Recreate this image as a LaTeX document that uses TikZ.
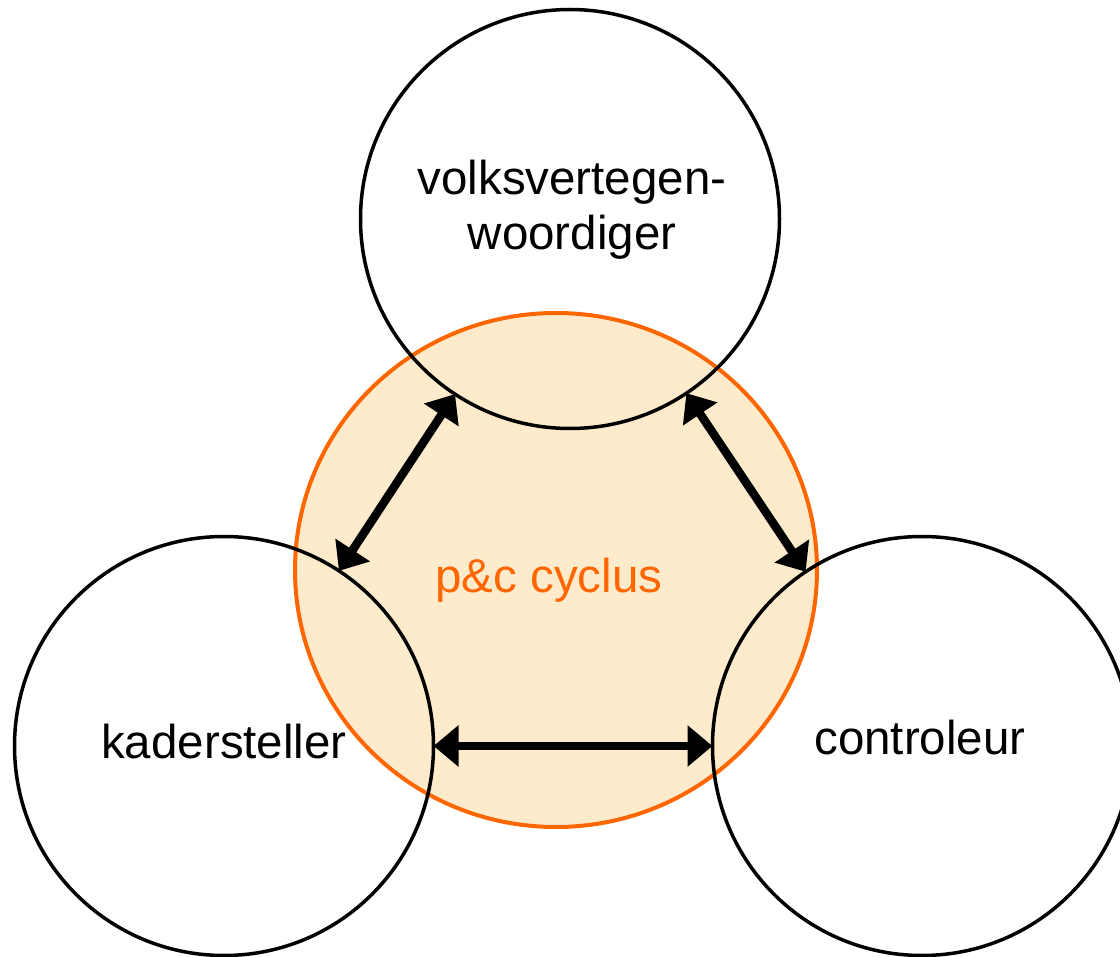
\documentclass[tikz,border=0pt]{standalone}
\usepackage{fontspec}
\setmainfont{Liberation Sans}
\usetikzlibrary{arrows.meta,shapes.geometric}
\definecolor{pcorange}{HTML}{FF6600}
\definecolor{pcfill}{HTML}{FEEBCC}
\begin{document}
\begin{tikzpicture}[x=1pt,y=-1pt,
  role/.style={circle,draw=black,line width=3.5pt,minimum size=419pt,inner sep=0pt,outer sep=0pt},
  rolelabel/.style={font=\fontsize{47.5}{55}\selectfont,align=center,text=black,inner sep=0pt},
  link/.style={line width=8.5pt,{Triangle[length=25pt,width=40pt]}-{Triangle[length=25pt,width=40pt]}}]
\useasboundingbox (0,0) rectangle (1120,957);
\fill[white] (0,0) rectangle (1120,957);
\node[ellipse,draw=pcorange,fill=pcfill,line width=4pt,minimum width=522pt,minimum height=514pt,inner sep=0pt] (pc) at (556,570) {};
\node[role] (vv) at (570,219) {};
\node[role] (ks) at (224,746) {};
\node[role] (ct) at (922,746) {};
\node[rolelabel] (vvt) at (572,210) {volksvertegen-\\woordiger};
\node[rolelabel] (kst) at (224,742) {kadersteller};
\node[rolelabel] (ctt) at (920,738) {controleur};
\node[rolelabel,text=pcorange] (pct) at (549,580) {p\&c cyclus};
\draw[link] (vv) -- (ks);
\draw[link] (vv) -- (ct);
\draw[link] (ks) -- (ct);
\end{tikzpicture}
\end{document}
